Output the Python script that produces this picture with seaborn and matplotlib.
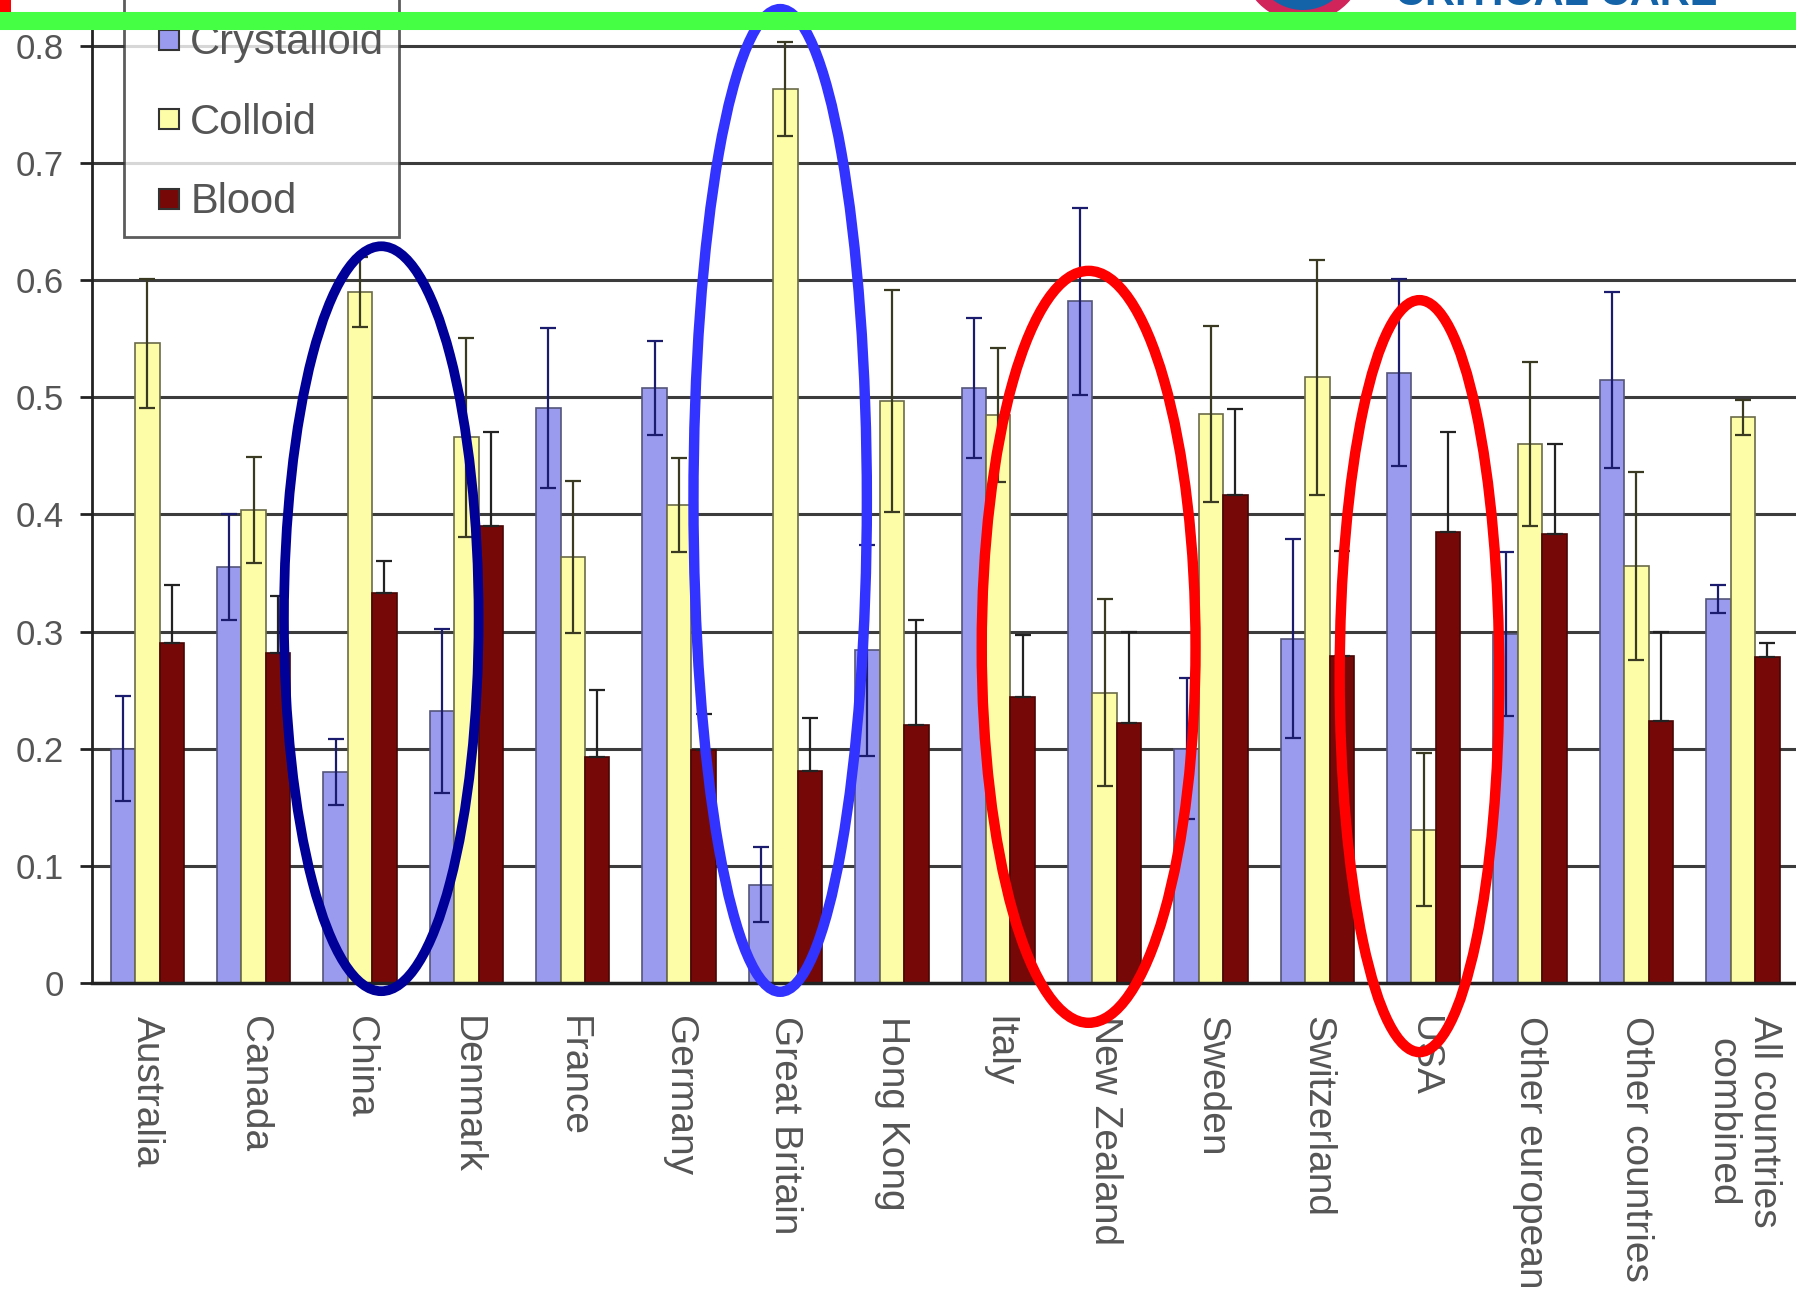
import numpy as np
import pandas as pd
import matplotlib
matplotlib.use('Agg')
import matplotlib.pyplot as plt
import seaborn as sns
from matplotlib.patches import Ellipse, Rectangle, Circle
from matplotlib.lines import Line2D

#data
countries = ['Australia', 'Canada', 'China', 'Denmark', 'France', 'Germany',
             'Great Britain', 'Hong Kong', 'Italy', 'New Zealand', 'Sweden',
             'Switzerland', 'USA', 'Other european', 'Other countries',
             'All countries\ncombined']
fluids = ['Crystalloid', 'Colloid', 'Blood']

crystalloid = [0.20, 0.355, 0.18, 0.232, 0.491, 0.508, 0.084, 0.284, 0.508, 0.582,
               0.20, 0.294, 0.521, 0.298, 0.515, 0.328]
colloid = [0.546, 0.404, 0.59, 0.466, 0.364, 0.408, 0.763, 0.497, 0.485, 0.248,
           0.486, 0.517, 0.131, 0.46, 0.356, 0.483]
blood = [0.29, 0.282, 0.333, 0.39, 0.193, 0.199, 0.181, 0.22, 0.244, 0.222,
         0.417, 0.279, 0.385, 0.383, 0.224, 0.278]

crystalloid_err = [0.045, 0.045, 0.028, 0.07, 0.068, 0.04, 0.032, 0.09, 0.06, 0.08,
                   0.06, 0.085, 0.08, 0.07, 0.075, 0.012]
colloid_err = [0.055, 0.045, 0.03, 0.085, 0.065, 0.04, 0.04, 0.095, 0.057, 0.08,
               0.075, 0.1, 0.065, 0.07, 0.08, 0.015]
blood_err = [0.05, 0.048, 0.027, 0.08, 0.057, 0.031, 0.045, 0.09, 0.053, 0.078,
             0.073, 0.09, 0.085, 0.077, 0.076, 0.012]

colors = ['#9a9bef', '#fdfda8', '#760808']
edge_colors = ['#55557a', '#6b6b4a', '#4a0606']
err_colors = ['#1c1c6e', '#3a3a22', '#222222']

df = pd.DataFrame({'Country': countries * 3,
                   'Fluid': np.repeat(fluids, len(countries)),
                   'Value': crystalloid + colloid + blood})

#figure
sns.set_theme(style='white')
plt.rcParams['font.family'] = ['Liberation Sans', 'DejaVu Sans']

fig = plt.figure(figsize=(17.96, 12.97), dpi=100)
ax = fig.add_axes([0.0512, 0.2421, 0.9488, 0.736])

sns.barplot(data=df, x='Country', y='Value', hue='Fluid', order=countries,
            hue_order=fluids, palette=colors, width=0.69, errorbar=None,
            linewidth=1.2, saturation=1, ax=ax, legend=False, zorder=2)

for cont, ec in zip(ax.containers, edge_colors):
    for p in cont:
        p.set_edgecolor(ec)

#error bars (blood only shows the upper half in the original)
for i, (cont, errs, ec) in enumerate(zip(ax.containers, [crystalloid_err, colloid_err, blood_err], err_colors)):
    xs = [p.get_x() + p.get_width() / 2 for p in cont]
    ys = [p.get_height() for p in cont]
    yerr = [np.zeros(len(errs)), errs] if i == 2 else errs
    ax.errorbar(xs, ys, yerr=yerr, fmt='none', ecolor=ec, elinewidth=1.6,
                capsize=5.5, capthick=1.6, zorder=3)

ax.set_ylim(0, 0.815)
ax.set_xlim(-0.52, 15.5)
ax.set_yticks(np.arange(0, 0.81, 0.1))
ax.set_yticklabels(['0', '0.1', '0.2', '0.3', '0.4', '0.5', '0.6', '0.7', '0.8'])
ax.set_xlabel('')
ax.set_ylabel('')
ax.yaxis.grid(True, color='#3c3c3c', linewidth=2.2)
ax.set_axisbelow(True)
for s in ['top', 'right']:
    ax.spines[s].set_visible(False)
ax.spines['left'].set_color('#222222')
ax.spines['left'].set_linewidth(2)
ax.spines['bottom'].set_color('#222222')
ax.spines['bottom'].set_linewidth(2.5)
ax.tick_params(axis='y', which='major', left=True, length=9, width=2,
               color='#222222', labelsize=25, labelcolor='#555555', pad=11)
ax.tick_params(axis='x', length=0, labelsize=28, labelcolor='#555555', pad=24)
for lab in ax.get_xticklabels():
    lab.set_rotation(270)
    lab.set_ha('center')
    lab.set_va('top')
    lab.set_multialignment('center')

#legend with square markers; blank title pushes the frame top off the page
handles = [Line2D([], [], linestyle='none', marker='s', markersize=14,
                  markerfacecolor=c, markeredgecolor='#333333', markeredgewidth=1.5)
           for c in colors]
leg = ax.legend(handles, fluids, loc='lower left', bbox_to_anchor=(0.0186, 0.7816),
                fontsize=30, frameon=True, fancybox=False, borderaxespad=0,
                borderpad=0.35, labelspacing=0.95, handlelength=1.5,
                handletextpad=-0.25, title=' ', title_fontsize=30)
leg.get_frame().set_edgecolor('#333333')
leg.get_frame().set_linewidth(2)
for t in leg.get_texts():
    t.set_color('#555555')
leg.set_zorder(5)

#highlight ellipses
ellipses = [(2.2, 0.311, 1.83, 0.636, '#000099', 7),
            (5.95, 0.412, 1.63, 0.839, '#3333ff', 7.5),
            (8.85, 0.287, 2.01, 0.642, '#ff0000', 7.5),
            (11.96, 0.262, 1.5, 0.642, '#ff0000', 7.5)]
for cx, cy, w, h, c, lw in ellipses:
    ax.add_patch(Ellipse((cx, cy), w, h, fill=False, edgecolor=c, linewidth=lw,
                         clip_on=False, zorder=6))

#top decorations: logo fragment, green rule, red corner
for r, c in [(0.62, '#d0245a'), (0.5, '#1463a8'), (0.3, 'white')]:
    fig.patches.append(Circle((13.03, 13.37), r, transform=fig.dpi_scale_trans,
                              facecolor=c, edgecolor='none', zorder=7))
fig.text(0.777, 1 - 5 / 1297, 'CRITICAL CARE', color='#1463a8', fontsize=30,
         fontweight='bold', va='baseline', ha='left')
fig.lines.append(Line2D([0, 1], [1 - 21 / 1297, 1 - 21 / 1297], transform=fig.transFigure,
                        color='#44ff44', linewidth=13, zorder=8))
fig.patches.append(Rectangle((0, 1 - 12 / 1297), 11 / 1796, 12 / 1297,
                             transform=fig.transFigure, facecolor='red',
                             edgecolor='none', zorder=9))

fig.savefig('out.png', dpi=100)
